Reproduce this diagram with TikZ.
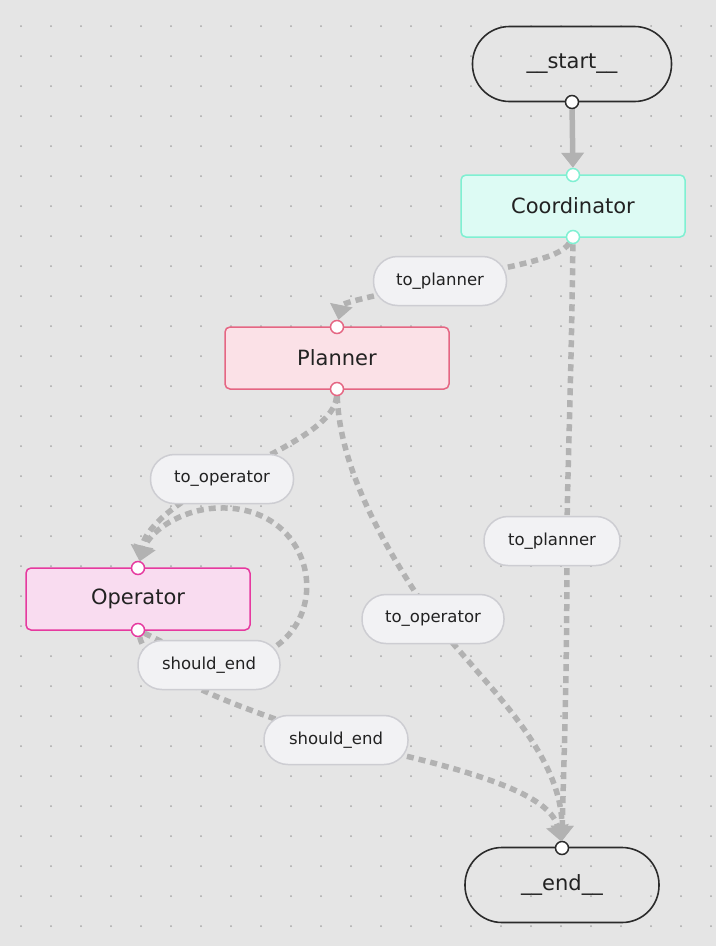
\documentclass[tikz,border=0pt]{standalone}
\usepackage{fontspec}
\setmainfont{DejaVu Sans}
\usetikzlibrary{arrows.meta}
\definecolor{bgc}{HTML}{E5E5E5}
\definecolor{dotc}{HTML}{A8A8A8}
\definecolor{edgec}{HTML}{B2B2B2}
\definecolor{termc}{HTML}{2B2B2B}
\definecolor{txt}{HTML}{222222}
\definecolor{lblfill}{HTML}{F2F2F4}
\definecolor{lbldraw}{HTML}{CDCDD2}
\definecolor{coordfill}{HTML}{DDFBF4}
\definecolor{coorddraw}{HTML}{7FF0D2}
\definecolor{planfill}{HTML}{FBE1E7}
\definecolor{plandraw}{HTML}{E56683}
\definecolor{opfill}{HTML}{F9DCF0}
\definecolor{opdraw}{HTML}{E6399F}
\pgfdeclarelayer{gridlayer}
\pgfdeclarelayer{edgelayer}
\pgfsetlayers{gridlayer,edgelayer,main}
\begin{document}
\begin{tikzpicture}[x=1pt,y=-1pt,
  term/.style={draw=termc, line width=1.6pt, rounded corners=37pt, minimum width=199pt, minimum height=75pt, font=\fontsize{21}{24}\selectfont, text=txt, inner sep=0pt},
  agent/.style={line width=1.5pt, rounded corners=5pt, minimum width=224pt, minimum height=62pt, font=\fontsize{21}{24}\selectfont, text=txt, inner sep=0pt},
  lbl/.style={fill=lblfill, draw=lbldraw, line width=1.5pt, rounded corners=24pt, minimum height=49pt, font=\fontsize{16.5}{20}\selectfont, text=txt, inner sep=0pt},
  port/.style={circle, fill=white, line width=1.5pt, minimum size=13pt, inner sep=0pt},
  flow/.style={draw=edgec, line width=5.5pt, dash pattern=on 7pt off 5pt, -{Triangle[width=22pt,length=15pt]}},
  solidflow/.style={draw=edgec, line width=5.5pt, -{Triangle[width=22pt,length=15pt]}}
]
\useasboundingbox (0,0) rectangle (716,946);
\begin{pgfonlayer}{gridlayer}
\fill[bgc] (0,0) rectangle (716,946);
\foreach \i in {0,...,23}{
  \foreach \j in {0,...,30}{
    \fill[dotc] (21+30*\i,26+30*\j) circle (1pt);
  }
}
\end{pgfonlayer}

% main nodes
\node[term] (start) at (572,64) {\_\_start\_\_};
\node[agent, fill=coordfill, draw=coorddraw] (coord) at (573,206) {Coordinator};
\node[agent, fill=planfill, draw=plandraw] (plan) at (337,358) {Planner};
\node[agent, fill=opfill, draw=opdraw] (oper) at (138,599) {Operator};
\node[term, minimum width=194pt] (end) at (562,885) {\_\_end\_\_};

% ports
\node[port, draw=termc] (pS) at (572,102) {};
\node[port, draw=coorddraw] (pCt) at (573,175) {};
\node[port, draw=coorddraw] (pCb) at (573,237) {};
\node[port, draw=plandraw] (pPt) at (337,327) {};
\node[port, draw=plandraw] (pPb) at (337,389) {};
\node[port, draw=opdraw] (pOt) at (138,568) {};
\node[port, draw=opdraw] (pOb) at (138,630) {};
\node[port, draw=termc] (pEt) at (562,848) {};

% labels
\node[lbl, minimum width=133pt] (L1) at (440,281) {to\_planner};
\node[lbl, minimum width=136pt] (L2) at (552,541) {to\_planner};
\node[lbl, minimum width=143pt] (L3) at (222,479) {to\_operator};
\node[lbl, minimum width=142pt] (L4) at (433,619) {to\_operator};
\node[lbl, minimum width=142pt] (L5) at (209,665) {should\_end};
\node[lbl, minimum width=144pt] (L6) at (336,740) {should\_end};
\coordinate (m3) at (567,541);
\coordinate (loopTop) at (220,508);

\begin{pgfonlayer}{edgelayer}
\draw[solidflow] (pS) -- (pCt);
\draw[flow] (pCb) .. controls (560,258) and (520,265) .. (L1.center)
  .. controls (380,295) and (342,302) .. (pPt);
\draw[flow] (pCb) .. controls (571,400) and (567,480) .. (m3)
  .. controls (567,700) and (563,780) .. (pEt);
\draw[flow] (pPb) .. controls (335,425) and (280,450) .. (L3.center)
  .. controls (170,505) and (145,530) .. (pOt);
\draw[flow] (pPb) .. controls (340,480) and (400,570) .. (L4.center)
  .. controls (480,680) and (562,750) .. (pEt);
\draw[flow] (pOb) -- (L5.center)
  .. controls (345,665) and (330,505) .. (loopTop)
  .. controls (185,508) and (150,530) .. (pOt);
\draw[flow] (pOb) .. controls (150,680) and (250,710) .. (L6.center)
  .. controls (450,765) and (550,790) .. (pEt);
\end{pgfonlayer}
\end{tikzpicture}
\end{document}
